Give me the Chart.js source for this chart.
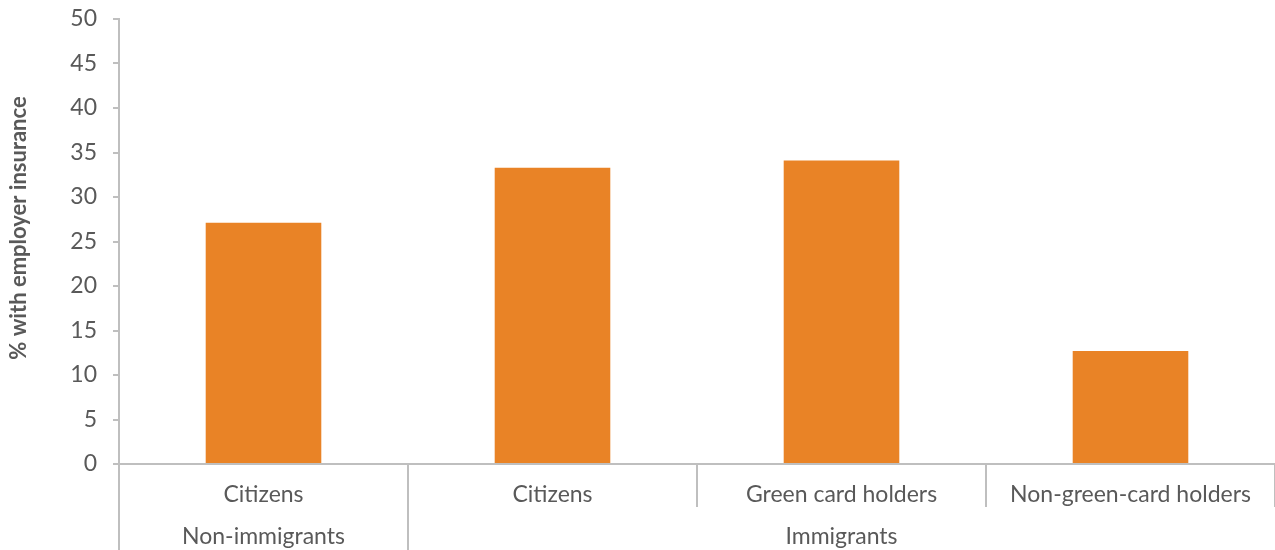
<!DOCTYPE html>
<html>
<head>
<meta charset="utf-8">
<script src="https://cdn.jsdelivr.net/npm/chart.js@4"></script>
<style>
  html, body { margin: 0; padding: 0; background: #fff; }
  #wrap { width: 1275px; height: 550px; }
</style>
</head>
<body>
<div id="wrap"><canvas id="insuranceChart"></canvas></div>
<script>
// Data
const categories = ['Citizens', 'Citizens', 'Green card holders', 'Non-green-card holders'];
const groups = ['Non-immigrants', 'Immigrants'];
const groupSizes = [1, 3];
const values = [27.1, 33.3, 34.1, 12.7];
const yTitle = '% with employer insurance';

const textColor = '#595959';
const lineColor = '#bfbfbf';

// Draws the second row of x labels (groups), their separators and the y title
const groupLabels = {
  id: 'groupLabels',
  afterDraw(chart) {
    const ctx = chart.ctx;
    const x = chart.scales.x;
    const half = (x.getPixelForValue(1) - x.getPixelForValue(0)) / 2;
    let start = 0;
    ctx.save();
    ctx.strokeStyle = lineColor;
    ctx.lineWidth = 2;
    ctx.fillStyle = textColor;
    ctx.font = '23px Lato';
    ctx.textAlign = 'center';
    ctx.textBaseline = 'middle';
    groups.forEach((g, i) => {
      const left = x.getPixelForValue(start) - half;
      const right = x.getPixelForValue(start + groupSizes[i] - 1) + half;
      ctx.beginPath();
      ctx.moveTo(Math.round(left), x.bottom - 43);
      ctx.lineTo(Math.round(left), chart.height);
      ctx.stroke();
      ctx.fillText(g, (left + right) / 2, 537);
      start += groupSizes[i];
    });

    // y axis title
    ctx.translate(19, 228);
    ctx.rotate(-Math.PI / 2);
    ctx.font = 'bold 22px Lato';
    ctx.fillText(yTitle, 0, 0);
    ctx.restore();
  }
};

const ctx = document.getElementById('insuranceChart').getContext('2d');
const insuranceChart = new Chart(ctx, {
  type: 'bar',
  data: {
    labels: categories,
    datasets: [
      {
        data: values,
        backgroundColor: '#E98326',
        categoryPercentage: 1.0,
        barPercentage: 0.4,
      },
    ],
  },
  options: {
    responsive: true,
    maintainAspectRatio: false,
    animation: false,
    layout: { padding: { top: 19, right: 0, bottom: 0, left: 0 } },
    plugins: {
      legend: { display: false },
      tooltip: { enabled: false },
    },
    scales: {
      x: {
        grid: {
          display: true,
          offset: true,
          drawOnChartArea: false,
          drawTicks: true,
          tickLength: 43,
          lineWidth: 2,
          // no separator at the far right edge
          color: (c) => (c.index >= categories.length ? 'rgba(0,0,0,0)' : lineColor),
        },
        border: { color: lineColor, width: 2 },
        ticks: {
          color: textColor,
          font: { family: 'Lato', size: 23 },
          padding: -26,
          maxRotation: 0,
          autoSkip: false,
        },
        afterFit(scale) {
          scale.height = 86;
          scale.paddingLeft = 0;
          scale.paddingRight = 0;
        },
      },
      y: {
        min: 0,
        max: 50,
        grid: {
          drawOnChartArea: false,
          drawTicks: true,
          tickLength: 6,
          lineWidth: 2,
          color: lineColor,
        },
        border: { color: lineColor, width: 2 },
        ticks: {
          stepSize: 5,
          color: textColor,
          font: { family: 'Lato', size: 23 },
          padding: 16,
        },
        afterFit(scale) {
          scale.width = 119;
          scale.paddingTop = 0;
          scale.paddingBottom = 0;
        },
      },
    },
  },
  plugins: [groupLabels],
});
</script>
</body>
</html>
